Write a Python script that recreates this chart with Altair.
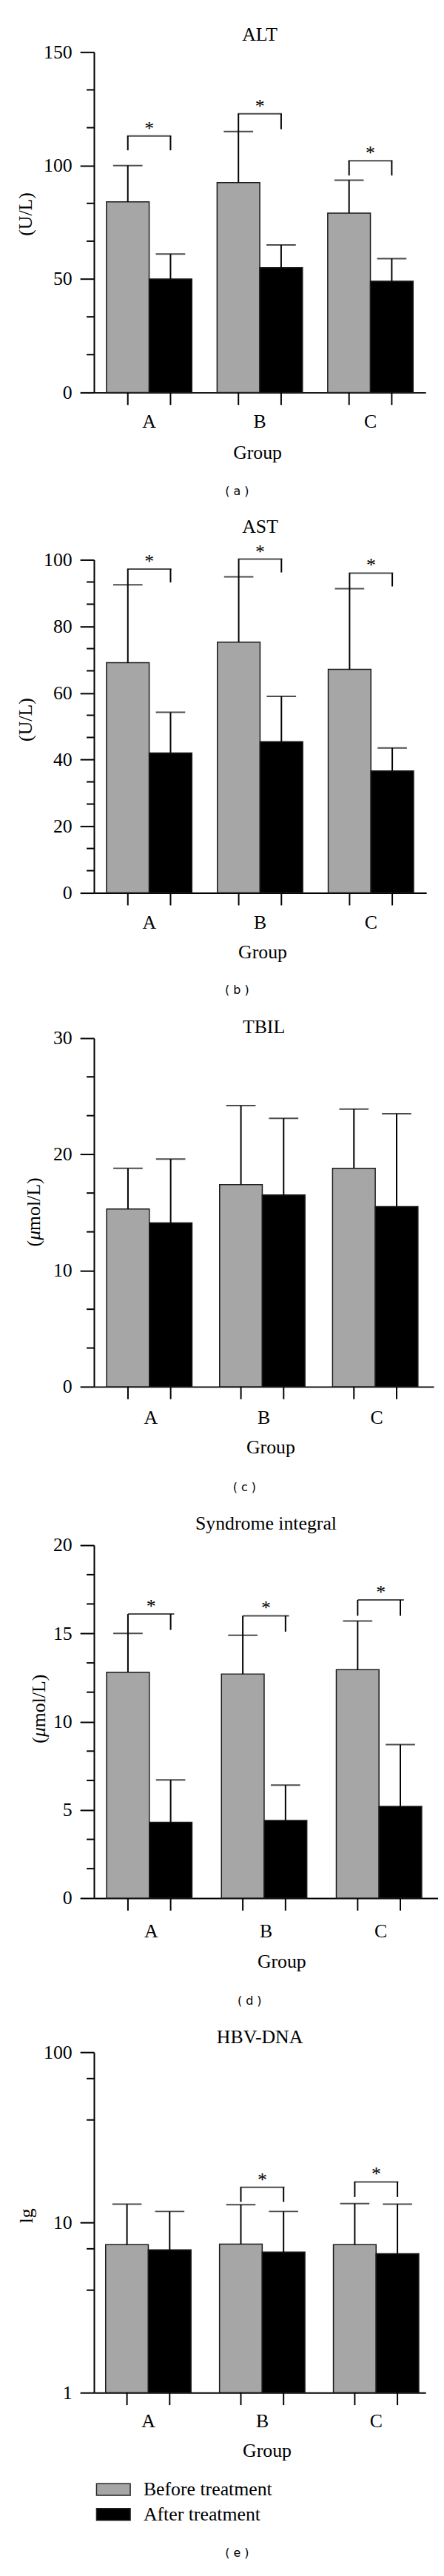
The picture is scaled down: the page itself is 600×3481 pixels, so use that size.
import altair as alt
import pandas as pd

SERIF = "Liberation Serif"
SANS = "DejaVu Sans"
GRAY = "#a6a6a6"

groups = ["A", "B", "C"]
series_names = ["Before treatment", "After treatment"]

# ---- ALT (U/L) ----
alt_before = [84, 92.5, 79]
alt_before_err = [100, 115, 93.5]
alt_after = [50, 55, 49]
alt_after_err = [61, 65, 59]
alt_br_groups = ["A", "B", "C"]
alt_br_top = [113, 122.8, 102.1]
alt_br_left = [106.7, 115, 95.6]
alt_br_right = [106.7, 116, 95.6]
alt_major = [0, 50, 100, 150]
alt_minor = [16.67, 33.33, 66.67, 83.33, 116.67, 133.33]

# ---- AST (U/L) ----
ast_before = [69.1, 75.3, 67.1]
ast_before_err = [92.5, 94.9, 91.3]
ast_after = [42, 45.4, 36.6]
ast_after_err = [54.2, 59, 43.5]
ast_br_groups = ["A", "B", "C"]
ast_br_top = [97.2, 100.2, 96]
ast_br_left = [92.5, 94.9, 91.3]
ast_br_right = [93.2, 96.2, 92]
ast_major = [0, 20, 40, 60, 80, 100]
ast_minor = [6.67, 13.33, 26.67, 33.33, 46.67, 53.33, 66.67, 73.33, 86.67, 93.33]

# ---- TBIL (umol/L) ----
tbil_before = [15.3, 17.4, 18.8]
tbil_before_err = [18.8, 24.2, 23.9]
tbil_after = [14.1, 16.5, 15.5]
tbil_after_err = [19.6, 23.1, 23.5]
tbil_major = [0, 10, 20, 30]
tbil_minor = [3.33, 6.67, 13.33, 16.67, 23.33, 26.67]

# ---- Syndrome integral ----
si_before = [12.8, 12.7, 12.95]
si_before_err = [15.0, 14.9, 15.7]
si_after = [4.3, 4.4, 5.2]
si_after_err = [6.7, 6.4, 8.7]
si_br_groups = ["A", "B", "C"]
si_br_top = [16.1, 16.0, 16.9]
si_br_left = [15.0, 14.9, 16.0]
si_br_right = [15.2, 15.1, 16.0]
si_major = [0, 5, 10, 15, 20]
si_minor = [1.67, 3.33, 6.67, 8.33, 11.67, 13.33, 16.67, 18.33]

# ---- HBV-DNA (lg) ----
hbv_before = [7.4, 7.45, 7.4]
hbv_before_err = [12.8, 12.7, 12.9]
hbv_after = [6.9, 6.7, 6.55]
hbv_after_err = [11.6, 11.6, 12.8]
hbv_br_groups = ["B", "C"]
hbv_br_top = [16.1, 17.3]
hbv_br_left = [13.2, 14.1]
hbv_br_right = [13.2, 14.1]
hbv_major = [1, 10, 100]
hbv_minor = [4, 7, 40, 70]


def bar_frame(before, before_err, after, after_err):
    rows = []
    for g, v, e in zip(groups, before, before_err):
        rows.append({"group": g, "series": series_names[0], "value": v, "err": e})
    for g, v, e in zip(groups, after, after_err):
        rows.append({"group": g, "series": series_names[1], "value": v, "err": e})
    return pd.DataFrame(rows)


def bracket_frames(bgroups, top, left, right):
    legs = []
    for g, t, l, r in zip(bgroups, top, left, right):
        legs.append({"group": g, "series": series_names[0], "top": t, "leg": l})
        legs.append({"group": g, "series": series_names[1], "top": t, "leg": r})
    tops = pd.DataFrame({"group": bgroups, "top": top, "star": ["*"] * len(bgroups)})
    return pd.DataFrame(legs), tops


def text_layer(txt, x, y, size, font, angle=0, align="center", style="normal"):
    return alt.Chart(pd.DataFrame({"t": [txt]})).mark_text(
        font=font, fontSize=size, color="black", align=align,
        baseline="middle", angle=angle, fontStyle=style
    ).encode(x=alt.value(x), y=alt.value(y), text="t:N")


def ytitle_layers(txt, x, yc):
    if "μ" not in txt:
        return [text_layer(txt, x, yc, 26, SERIF, angle=270)]
    # "(" + italic "μ" + "mol/L)", written bottom-to-top
    pieces = [("(", 0.333, "normal"), ("μ", 0.5, "italic"), ("mol/L)", 2.778, "normal")]
    total = sum(w for _, w, _ in pieces) * 26
    y = yc + total / 2
    out = []
    for s, w, st in pieces:
        out.append(text_layer(s, x, y, 26, SERIF, angle=270, align="left", style=st))
        y -= w * 26
    return out


def make_panel(p):
    W, H = p["W"], p["H"]
    pI, pO, al = p["pI"], p["pO"], p.get("align", 0.5)
    xscale = alt.Scale(domain=groups, paddingInner=pI, paddingOuter=pO, align=al)
    yscale = alt.Scale(**p["yscale"])
    df = bar_frame(*p["bars"])

    xaxis = alt.Axis(
        title=None, ticks=False, tickSize=0, labelAngle=0, labelFont=SERIF,
        labelFontSize=26, labelColor="black", labelPadding=p["xlab"],
        labelBaseline="middle", domainColor="black", domainWidth=2, grid=False,
    )
    yaxis = alt.Axis(
        values=p["major"], title=None, grid=False, domainColor="black",
        domainWidth=2, tickColor="black", tickWidth=2, tickSize=19,
        labelFont=SERIF, labelFontSize=26, labelColor="black", labelPadding=11,
        labelFlush=False, labelOverlap=False, format="d",
    )
    X = alt.X("group:N", scale=xscale, axis=xaxis)
    xo = alt.XOffset("series:N", scale=alt.Scale(domain=series_names))

    def Y(field, **kw):
        return alt.Y(field, scale=yscale, axis=yaxis, **kw)

    if p.get("legend"):
        legend = alt.Legend(
            orient="none", legendX=p["legend"][0], legendY=p["legend"][1],
            title=None, symbolType="M-2,-0.7H2V0.7H-2Z", symbolSize=529,
            symbolStrokeColor="#222222", symbolStrokeWidth=1.5,
            labelFont=SERIF, labelFontSize=26, labelColor="black",
            labelOffset=28, rowPadding=8, padding=0, labelLimit=0,
        )
    else:
        legend = None

    enc = dict(
        x=X, xOffset=xo, y=Y("value:Q", stack=None),
        color=alt.Color("series:N", scale=alt.Scale(domain=series_names, range=[GRAY, "#000000"]),
                        legend=legend),
    )
    if p["yscale"].get("type") == "log":
        enc["y2"] = alt.value(H)
    bars = alt.Chart(df).mark_bar(stroke="#1a1a1a", strokeWidth=1.5).encode(**enc)
    err = alt.Chart(df).mark_rule(color="black", strokeWidth=2).encode(
        x=X, xOffset=xo, y=Y("value:Q"), y2="err:Q",
    )
    caps = alt.Chart(df).mark_tick(color="black", orient="horizontal", size=40, thickness=2).encode(
        x=X, xOffset=xo, y=Y("err:Q"),
    )
    xticks = alt.Chart(df).mark_rule(color="black", strokeWidth=2).encode(
        x=X, xOffset=xo, y=alt.value(H), y2=alt.value(H + 17),
    )
    minor = alt.Chart(pd.DataFrame({"v": p["minor"]})).mark_rule(color="black", strokeWidth=2).encode(
        y=Y("v:Q"), x=alt.value(-10), x2=alt.value(0),
    )
    layers = [bars, err, caps, xticks, minor]

    if p.get("brackets"):
        legdf, topdf = bracket_frames(*p["brackets"])
        step = W / (3 - pI + 2 * pO)
        half = step * (1 - pI) / 2 + 2
        legs = alt.Chart(legdf).mark_rule(color="black", strokeWidth=2).encode(
            x=X, xOffset=xo, y=Y("leg:Q"), y2="top:Q",
        )
        hbar = alt.Chart(topdf).mark_tick(color="black", orient="horizontal", size=half, thickness=2).encode(
            x=X, y=Y("top:Q"),
        )
        stars = alt.Chart(topdf).mark_text(
            font=SERIF, fontSize=26, baseline="alphabetic", dy=-2, color="black"
        ).encode(x=X, y=Y("top:Q"), text="star:N")
        layers += [legs, hbar, stars]

    layers += [text_layer(p["title"], W / 2, p["title_y"], 26, SERIF)]
    layers += ytitle_layers(p["ytitle"], p["ytitle_pos"][0], p["ytitle_pos"][1])
    layers += [
        text_layer("Group", p["group_pos"][0], H + p["group_pos"][1], 26, SERIF),
        text_layer(p["caption"], p["cap_pos"][0], H + p["cap_pos"][1], 16, SANS),
    ]
    L, K, M = p["frame"]
    frame = alt.Chart(pd.DataFrame({"t": [0]})).mark_rect(opacity=0).encode(
        x=alt.value(-L), x2=alt.value(W), y=alt.value(-K), y2=alt.value(H + M),
    )
    layers.append(frame)
    return alt.layer(*layers).properties(width=W, height=H)


panels = [
    dict(W=452, H=464, pI=0.228, pO=0.113, yscale=dict(domain=[0, 150], nice=False, zero=True),
         bars=(alt_before, alt_before_err, alt_after, alt_after_err), major=alt_major, minor=alt_minor,
         brackets=(alt_br_groups, alt_br_top, alt_br_left, alt_br_right),
         title="ALT", title_y=-23, ytitle="(U/L)", ytitle_pos=(-93, 221),
         group_pos=(223, 82), caption="( a )", cap_pos=(195, 135), xlab=40, frame=(120, 48, 160)),
    dict(W=453, H=454, pI=0.228, pO=0.113, yscale=dict(domain=[0, 100], nice=False, zero=True),
         bars=(ast_before, ast_before_err, ast_after, ast_after_err), major=ast_major, minor=ast_minor,
         brackets=(ast_br_groups, ast_br_top, ast_br_left, ast_br_right),
         title="AST", title_y=-45, ytitle="(U/L)", ytitle_pos=(-93, 218),
         group_pos=(230, 81), caption="( b )", cap_pos=(195, 133), xlab=40, frame=(120, 68, 158)),
    dict(W=463, H=475, pI=0.217, pO=0.112, yscale=dict(domain=[0, 30], nice=False, zero=True),
         bars=(tbil_before, tbil_before_err, tbil_after, tbil_after_err), major=tbil_major, minor=tbil_minor,
         title="TBIL", title_y=-15, ytitle="(μmol/L)", ytitle_pos=(-82, 237),
         group_pos=(241, 83), caption="( c )", cap_pos=(205, 137), xlab=42, frame=(110, 40, 162)),
    dict(W=469, H=481, pI=0.224, pO=0.11, yscale=dict(domain=[0, 20], nice=False, zero=True),
         bars=(si_before, si_before_err, si_after, si_after_err), major=si_major, minor=si_minor,
         brackets=(si_br_groups, si_br_top, si_br_left, si_br_right),
         title="Syndrome integral", title_y=-29, ytitle="(μmol/L)", ytitle_pos=(-75, 223),
         group_pos=(256, 87), caption="( d )", cap_pos=(212, 140), xlab=45, frame=(103, 54, 165)),
    dict(W=452, H=464, pI=0.248, pO=0.08, align=0.64,
         yscale=dict(type="log", domain=[1, 100], nice=False),
         bars=(hbv_before, hbv_before_err, hbv_after, hbv_after_err), major=hbv_major, minor=hbv_minor,
         brackets=(hbv_br_groups, hbv_br_top, hbv_br_left, hbv_br_right),
         title="HBV-DNA", title_y=-20, ytitle="lg", ytitle_pos=(-92, 223),
         group_pos=(236, 80), caption="( e )", cap_pos=(195, 219), xlab=39, frame=(120, 45, 232),
         legend=(13.5, 583)),
]

chart = alt.concat(*[make_panel(p) for p in panels], columns=1, spacing=0, align="none", bounds="full")
chart = chart.resolve_scale(color="independent").properties(padding=0, background="white")
chart = chart.configure_view(stroke=None)

chart.save("out.html", embed_options={"renderer": "svg", "actions": False})
